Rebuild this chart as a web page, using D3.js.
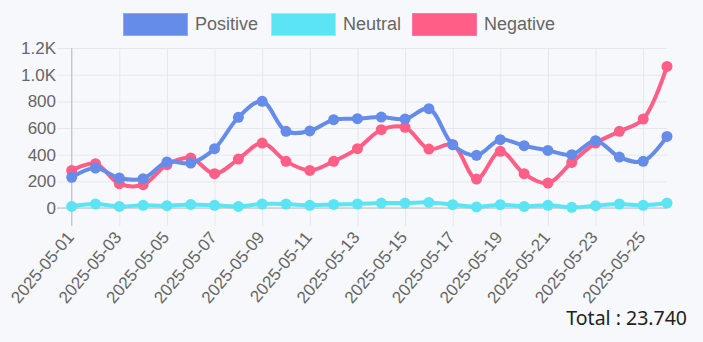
<!DOCTYPE html>
<html>
<head>
<meta charset="utf-8">
<script src="https://cdn.jsdelivr.net/npm/d3@7"></script>
<style>
  html, body { margin: 0; padding: 0; background: #F7F8FC; }
  svg { display: block; }
</style>
</head>
<body>
<svg id="chart" width="703" height="342"></svg>
<script>
const dates = ["2025-05-01","2025-05-02","2025-05-03","2025-05-04","2025-05-05","2025-05-06","2025-05-07","2025-05-08","2025-05-09","2025-05-10","2025-05-11","2025-05-12","2025-05-13","2025-05-14","2025-05-15","2025-05-16","2025-05-17","2025-05-18","2025-05-19","2025-05-20","2025-05-21","2025-05-22","2025-05-23","2025-05-24","2025-05-25","2025-05-26"];
const positive = [230,300,225,220,345,337,445,680,800,575,578,662,670,682,667,745,475,395,512,467,432,400,505,382,350,537];
const neutral  = [12,30,12,20,17,27,20,12,30,30,20,27,30,37,37,42,25,8,25,12,20,5,17,30,20,37];
const negative = [282,332,182,175,325,375,257,367,487,350,282,350,445,587,605,442,475,217,425,257,187,342,487,575,667,1062];
const yTicks = [0,200,400,600,800,1000,1200];
const seriesNames = ["Positive","Neutral","Negative"];
const seriesColors = ["#648CE8","#5AE4F4","#FF5E87"];
const totalLabel = "Total : 23.740";

const svg = d3.select("#chart");
const fontFam = "'Liberation Sans', Arial, sans-serif";

const x = d3.scalePoint().domain(dates).range([71.7, 667]);
const y = d3.scaleLinear().domain([0, 1200]).range([208, 48]);

const fmt = v => v >= 1000 ? (v/1000).toFixed(1) + "K" : String(v);

// horizontal grid + y labels
const yAxis = d3.axisLeft(y).tickValues(yTicks).tickFormat(fmt).tickSize(-(667 - 57)).tickPadding(2);
const gy = svg.append("g").attr("transform", "translate(57,0)").call(yAxis);
gy.select(".domain").remove();
gy.selectAll(".tick line").attr("stroke", "#E6E7EC").attr("stroke-width", 1);
gy.selectAll(".tick text").attr("fill", "#666").attr("font-size", 17).attr("font-family", fontFam).attr("x", -1);

// vertical grid + x labels (every other date)
const shown = dates.filter((d, i) => i % 2 === 0);
const xAxis = d3.axisBottom(x).tickValues(shown).tickSize(0);
const gx = svg.append("g").attr("transform", "translate(0,208)").call(xAxis);
gx.select(".domain").remove();
gx.selectAll(".tick line").remove();
gx.selectAll(".tick").append("line").attr("y1", -160).attr("y2", 18).attr("stroke", "#E6E7EC");
gx.selectAll(".tick text")
  .attr("fill", "#666").attr("font-size", 17).attr("font-family", fontFam)
  .attr("text-anchor", "end").attr("dy", "0.35em")
  .attr("transform", "translate(-2,26) rotate(-50)").attr("y", 0).attr("x", 0);

// axis lines
svg.append("line").attr("x1", 71.7).attr("x2", 71.7).attr("y1", 48).attr("y2", 226).attr("stroke", "#BDBDBD");
svg.append("line").attr("x1", 57).attr("x2", 667).attr("y1", 208).attr("y2", 208).attr("stroke", "#BDBDBD");

// series
const seriesData = [positive, neutral, negative];
const line = d3.line().x((d, i) => x(dates[i])).y(d => y(d)).curve(d3.curveCatmullRom.alpha(0.5));
[2, 1, 0].forEach(k => {
  const g = svg.append("g");
  g.append("path").datum(seriesData[k]).attr("d", line)
    .attr("fill", "none").attr("stroke", seriesColors[k]).attr("stroke-width", 4)
    .attr("stroke-linejoin", "round").attr("stroke-linecap", "round");
  g.selectAll("circle").data(seriesData[k]).join("circle")
    .attr("cx", (d, i) => x(dates[i])).attr("cy", d => y(d)).attr("r", 5.5)
    .attr("fill", seriesColors[k]);
});

// legend
const legX = [123, 271, 412];
seriesNames.forEach((n, k) => {
  svg.append("rect").attr("x", legX[k] + 0.5).attr("y", 13.5).attr("width", 64).attr("height", 22)
    .attr("fill", seriesColors[k]).attr("stroke", d3.color(seriesColors[k]).brighter(0.6)).attr("stroke-width", 1);
  svg.append("text").attr("x", legX[k] + 72).attr("y", 30).text(n)
    .attr("fill", "#666").attr("font-size", 18).attr("font-family", fontFam);
});

// total
svg.append("text").attr("x", 687).attr("y", 325).attr("text-anchor", "end")
  .attr("font-size", 19.5).attr("font-family", "'Noto Sans', 'Open Sans', sans-serif").attr("fill", "#222")
  .text(totalLabel);
</script>
</body>
</html>
